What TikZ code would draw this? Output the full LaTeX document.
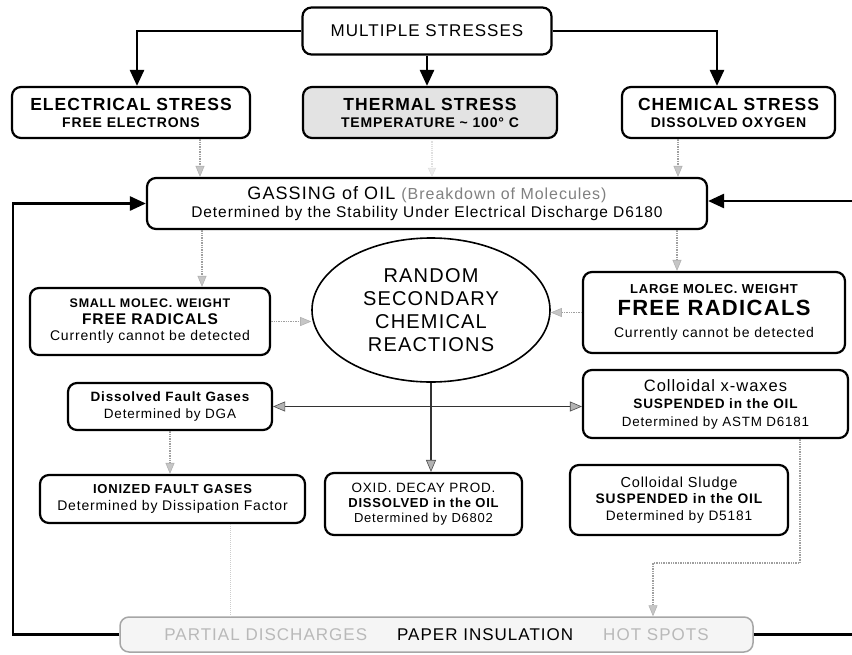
\documentclass[tikz,border=0pt]{standalone}
\usepackage{fontspec}
\setmainfont{Liberation Sans}[LetterSpace=6]
\usetikzlibrary{arrows.meta,shapes.geometric}
\newcommand\fsz[2]{\fontsize{#1}{#2}\selectfont}

\begin{document}
\begin{tikzpicture}[x=1pt,y=-1pt,
  box/.style={draw,line width=2.2pt,rounded corners=9pt,align=center,inner sep=0pt},
  heavy/.style={line width=2.6pt,-{Triangle[length=16pt,width=14pt]}},
  faint/.style={draw=gray!75,line width=1.4pt,densely dotted,
    -{Triangle[length=11pt,width=9pt,fill=gray!45,color=gray!60,line width=0.6pt]}},
  ghost/.style={draw=gray!25,line width=1.2pt,densely dotted,
    -{Triangle[length=9pt,width=8pt,fill=gray!15,color=gray!25,line width=0.5pt]}},
  link/.style={draw=black!80,line width=1.5pt},
  ltip/.tip={Triangle[length=12pt,width=10pt,fill=gray!60,color=black!70,line width=0.6pt]}]
  \useasboundingbox (0,0) rectangle (852,654);

  % stresses
  \node[box,minimum width=249pt,minimum height=47pt,font=\fsz{17}{20}] (multi) at (427,31) {MULTIPLE STRESSES};
  \node[box,minimum width=238pt,minimum height=51pt,font=\bfseries\fsz{17.5}{17}] (elec) at (131,112.5)
    {ELECTRICAL STRESS\\\bfseries\fsz{14}{17}FREE ELECTRONS};
  \node[box,fill=gray!22,minimum width=254pt,minimum height=51pt,font=\bfseries\fsz{17.5}{17}] (therm) at (430,112.5)
    {THERMAL STRESS\\\bfseries\fsz{14}{17}TEMPERATURE \textasciitilde{} 100° C};
  \node[box,minimum width=213pt,minimum height=51pt,font=\bfseries\fsz{17.5}{17}] (chem) at (728.5,112.5)
    {CHEMICAL STRESS\\\bfseries\fsz{14}{17}DISSOLVED OXYGEN};

  % gassing
  \node[box,minimum width=560pt,minimum height=51pt,font=\fsz{15.5}{18}] (gas) at (427,203.5)
    {\fsz{18}{18}GASSING of OIL {\color{gray}\fsz{16}{18}(Breakdown of Molecules)}\\\fsz{15.5}{18}Determined by the Stability Under Electrical Discharge D6180};

  % radicals and reactions
  \node[box,minimum width=240pt,minimum height=67pt,font=\fsz{14}{16.5}] (small) at (150,321.5)
    {\bfseries\fsz{12.5}{16.5}SMALL MOLEC. WEIGHT\\\bfseries\fsz{15.5}{16.5}FREE RADICALS\\\mdseries\fsz{14}{16.5}Currently cannot be detected};
  \node[draw,ellipse,line width=1.6pt,minimum width=238pt,minimum height=144pt,inner sep=0pt,align=center,font=\fsz{20}{23}] (rand) at (431,310)
    {RANDOM\\SECONDARY\\CHEMICAL\\REACTIONS};
  \node[box,minimum width=262pt,minimum height=81pt,font=\fsz{14}{22}] (large) at (714,312.5)
    {\bfseries\fsz{13}{22}LARGE MOLEC. WEIGHT\\\bfseries\fsz{22}{22}FREE RADICALS\\\mdseries\fsz{14}{22}Currently cannot be detected};

  % products
  \node[box,minimum width=204pt,minimum height=47pt,font=\fsz{13.5}{17}] (diss) at (170,406.5)
    {\bfseries\fsz{13.5}{17}Dissolved Fault Gases\\\mdseries\fsz{13.5}{17}Determined by DGA};
  \node[box,minimum width=265pt,minimum height=68pt,font=\fsz{13.5}{17.5}] (wax) at (715.5,404)
    {\fsz{16.5}{17.5}Colloidal x-waxes\\\bfseries\fsz{13.6}{17.5}SUSPENDED in the OIL\\\mdseries\fsz{13.4}{17.5}Determined by ASTM D6181};
  \node[box,minimum width=265pt,minimum height=48pt,font=\fsz{14}{17}] (ion) at (172.5,499)
    {\bfseries\fsz{13}{17}IONIZED FAULT GASES\\\mdseries\fsz{14}{17}Determined by Dissipation Factor};
  \node[box,minimum width=197pt,minimum height=62pt,font=\fsz{13}{15}] (oxid) at (423.5,504)
    {\fsz{13.5}{15}OXID. DECAY PROD.\\\bfseries\fsz{13}{15}DISSOLVED in the OIL\\\mdseries\fsz{13}{15}Determined by D6802};
  \node[box,minimum width=218pt,minimum height=70pt,font=\fsz{13.7}{16.5}] (sludge) at (679,500)
    {\fsz{14.5}{16.5}Colloidal Sludge\\\bfseries\fsz{13.8}{16.5}SUSPENDED in the OIL\\\mdseries\fsz{13.7}{16.5}Determined by D5181};

  % paper
  \node[box,draw=gray!70,fill=gray!8,line width=1.5pt,minimum width=633pt,minimum height=35pt,font=\fsz{17}{17}] (paper) at (436.5,634.5)
    {{\color{gray!55}PARTIAL DISCHARGES}\hspace{30pt}PAPER INSULATION\hspace{30pt}{\color{gray!55}HOT SPOTS}};

  \coordinate (xa) at (137,0);
  \coordinate (xb) at (717,0);
  \coordinate (xe) at (200,0);
  \coordinate (xg) at (432,0);
  \coordinate (xc) at (678,0);
  \coordinate (xs) at (202,0);
  \coordinate (xl) at (677,0);
  \coordinate (xi) at (230,0);
  \coordinate (w1) at (800,563);
  \coordinate (w2) at (653,563);
  \coordinate (lp) at (13,400);
  \coordinate (rp) at (852,638);
  \coordinate (rq) at (852,201);

  \draw[heavy] (multi.west) -| (xa |- elec.north);
  \draw[heavy] (multi.south) -- (multi.south |- therm.north);
  \draw[heavy] (multi.east) -| (xb |- chem.north);

  \draw[faint] (xe |- elec.south) -- (xe |- gas.north);
  \draw[ghost] (xg |- therm.south) -- (xg |- gas.north);
  \draw[faint] (xc |- chem.south) -- (xc |- gas.north);

  \draw[faint] (xs |- gas.south) -- (xs |- small.north);
  \draw[faint] (xl |- gas.south) -- (xl |- large.north);
  \draw[faint] (small.east) -- (small.east -| rand.west);
  \draw[faint] (large.west) -- (large.west -| rand.east);

  \draw[link,{ltip}-{ltip}] (diss.east) -- (diss.east -| wax.west);
  \draw[link,-{ltip}] (rand.south) -- (rand.south |- oxid.north);
  \draw[faint] (diss.south) -- (diss.south |- ion.north);

  \draw[draw=gray!40,line width=1pt,densely dotted] (xi |- ion.south) -- (xi |- paper.north);
  \draw[faint] (w1 |- wax.south) -- (w1) -- (w2) -- (w2 |- paper.north);

  % feedback
  \draw[heavy] (paper.west) -| (lp) |- (gas.west);
  \draw[line width=2.6pt] (paper.east) -- (paper.east -| rp);
  \draw[heavy] (rq) -- (rq -| gas.east);
\end{tikzpicture}
\end{document}
